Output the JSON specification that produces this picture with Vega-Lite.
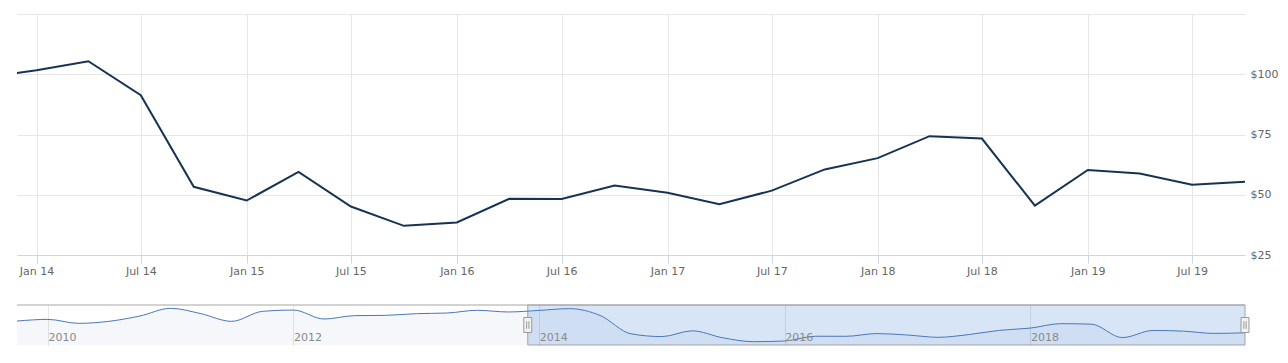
{
  "$schema": "https://vega.github.io/schema/vega-lite/v6.json",
  "padding": {"left": 15, "top": 14, "right": 0, "bottom": 0},
  "background": "white",
  "config": {
    "font": "DejaVu Sans",
    "view": {"stroke": null},
    "axis": {"labelFont": "DejaVu Sans", "labelFontSize": 11, "labelColor": "#666666"}
  },
  "datasets": {
    "series": [
      {"date": "2009-10-01T00:00", "value": 79.7},
      {"date": "2010-01-01T00:00", "value": 83.2},
      {"date": "2010-04-01T00:00", "value": 75.0},
      {"date": "2010-07-01T00:00", "value": 79.1},
      {"date": "2010-10-01T00:00", "value": 90.1},
      {"date": "2011-01-01T00:00", "value": 106.0},
      {"date": "2011-04-01T00:00", "value": 95.0},
      {"date": "2011-07-01T00:00", "value": 79.1},
      {"date": "2011-10-01T00:00", "value": 99.8},
      {"date": "2012-01-01T00:00", "value": 102.5},
      {"date": "2012-04-01T00:00", "value": 83.9},
      {"date": "2012-07-01T00:00", "value": 90.9},
      {"date": "2012-10-01T00:00", "value": 91.5},
      {"date": "2013-01-01T00:00", "value": 95.0},
      {"date": "2013-04-01T00:00", "value": 96.3},
      {"date": "2013-07-01T00:00", "value": 101.9},
      {"date": "2013-10-01T00:00", "value": 98.5},
      {"date": "2014-01-01T00:00", "value": 101.7},
      {"date": "2014-04-01T00:00", "value": 105.4},
      {"date": "2014-07-01T00:00", "value": 91.3},
      {"date": "2014-10-01T00:00", "value": 53.3},
      {"date": "2015-01-01T00:00", "value": 47.6},
      {"date": "2015-04-01T00:00", "value": 59.5},
      {"date": "2015-07-01T00:00", "value": 45.1},
      {"date": "2015-10-01T00:00", "value": 37.1},
      {"date": "2016-01-01T00:00", "value": 38.5},
      {"date": "2016-04-01T00:00", "value": 48.3},
      {"date": "2016-07-01T00:00", "value": 48.2},
      {"date": "2016-10-01T00:00", "value": 53.8},
      {"date": "2017-01-01T00:00", "value": 50.8},
      {"date": "2017-04-01T00:00", "value": 46.1},
      {"date": "2017-07-01T00:00", "value": 51.7},
      {"date": "2017-10-01T00:00", "value": 60.5},
      {"date": "2018-01-01T00:00", "value": 65.2},
      {"date": "2018-04-01T00:00", "value": 74.3},
      {"date": "2018-07-01T00:00", "value": 73.3},
      {"date": "2018-10-01T00:00", "value": 45.5},
      {"date": "2019-01-01T00:00", "value": 60.3},
      {"date": "2019-04-01T00:00", "value": 58.8},
      {"date": "2019-07-01T00:00", "value": 54.2},
      {"date": "2019-10-01T00:00", "value": 55.4}
    ],
    "window": [
      {"start": "2013-11-28T00:00", "end": "2019-10-01T00:00", "low": 30.2, "high": 112.9}
    ],
    "handles": [
      {"date": "2013-11-28T00:00", "mid": 71.55},
      {"date": "2019-10-01T00:00", "mid": 71.55}
    ]
  },
  "vconcat": [
    {
      "width": 1228,
      "height": 241,
      "data": {"name": "series"},
      "mark": {"type": "line", "clip": true, "color": "#173353", "strokeWidth": 2},
      "encoding": {
        "x": {
          "field": "date", "type": "temporal",
          "scale": {"domain": [{"year": 2013, "month": 11, "date": 28}, {"year": 2019, "month": 10, "date": 1}]},
          "axis": {
            "title": null, "format": "%b %y",
            "values": [
              {"year": 2014, "month": 1, "date": 1}, {"year": 2014, "month": 7, "date": 1},
              {"year": 2015, "month": 1, "date": 1}, {"year": 2015, "month": 7, "date": 1},
              {"year": 2016, "month": 1, "date": 1}, {"year": 2016, "month": 7, "date": 1},
              {"year": 2017, "month": 1, "date": 1}, {"year": 2017, "month": 7, "date": 1},
              {"year": 2018, "month": 1, "date": 1}, {"year": 2018, "month": 7, "date": 1},
              {"year": 2019, "month": 1, "date": 1}, {"year": 2019, "month": 7, "date": 1}
            ],
            "grid": true, "gridColor": "#e6e6e6",
            "domainColor": "#ccd6eb", "tickColor": "#ccd6eb", "tickSize": 8,
            "labelPadding": 2, "labelBaseline": "top", "labelFlush": false, "labelOverlap": false
          }
        },
        "y": {
          "field": "value", "type": "quantitative",
          "scale": {"domain": [25, 125], "nice": false, "zero": false},
          "axis": {
            "orient": "right", "title": null,
            "values": [25, 50, 75, 100, 125],
            "labelExpr": "datum.value >= 125 ? '' : '$' + datum.value",
            "grid": true, "gridColor": "#e6e6e6",
            "domain": false, "ticks": false, "labelPadding": 5, "labelAlign": "left"
          }
        }
      }
    },
    {
      "width": 1228,
      "height": 40,
      "layer": [
        {
          "data": {"name": "window"},
          "mark": {"type": "rect", "fill": "#6ba0e0", "fillOpacity": 0.27, "stroke": "#a6a6a6", "strokeWidth": 1},
          "encoding": {
            "x": {
              "field": "start", "type": "temporal",
              "scale": {"domain": [{"year": 2009, "month": 10, "date": 1}, {"year": 2019, "month": 10, "date": 1}]},
              "axis": {
                "title": null, "format": "%Y",
                "values": [
                  {"year": 2010, "month": 1, "date": 1}, {"year": 2012, "month": 1, "date": 1},
                  {"year": 2014, "month": 1, "date": 1}, {"year": 2016, "month": 1, "date": 1},
                  {"year": 2018, "month": 1, "date": 1}
                ],
                "grid": true, "gridColor": "#000000", "gridOpacity": 0.09,
                "domain": false, "ticks": false,
                "labelAlign": "left", "labelDx": 3, "labelBaseline": "middle", "labelPadding": -8,
                "labelColor": "#8a8a8a", "labelFlush": false, "zindex": 1
              }
            },
            "x2": {"field": "end"},
            "y": {
              "field": "low", "type": "quantitative",
              "scale": {"domain": [30.2, 112.9], "nice": false, "zero": false},
              "axis": null
            },
            "y2": {"field": "high"}
          }
        },
        {
          "data": {"name": "series"},
          "mark": {"type": "area", "interpolate": "monotone", "color": "#335cad", "fillOpacity": 0.05, "clip": true},
          "encoding": {
            "x": {"field": "date", "type": "temporal"},
            "y": {"field": "value", "type": "quantitative"}
          }
        },
        {
          "data": {"name": "series"},
          "mark": {"type": "line", "interpolate": "monotone", "color": "#4a78b8", "strokeWidth": 1},
          "encoding": {
            "x": {"field": "date", "type": "temporal"},
            "y": {"field": "value", "type": "quantitative"}
          }
        },
        {
          "data": {"name": "window"},
          "mark": {"type": "rule", "color": "#a6a6a6", "strokeWidth": 1},
          "encoding": {
            "y": {"field": "high", "type": "quantitative"}
          }
        },
        {
          "data": {"name": "handles"},
          "mark": {
            "type": "point", "filled": true, "fill": "#f2f2f2", "fillOpacity": 1,
            "stroke": "#999999", "strokeWidth": 1, "strokeOpacity": 1, "size": 225,
            "shape": "M-0.53,-1H0.53V1H-0.53Z M-0.15,-0.5V0.5 M0.15,-0.5V0.5"
          },
          "encoding": {
            "x": {"field": "date", "type": "temporal"},
            "y": {"field": "mid", "type": "quantitative"}
          }
        }
      ]
    }
  ],
  "spacing": 50,
  "bounds": "flush"
}
